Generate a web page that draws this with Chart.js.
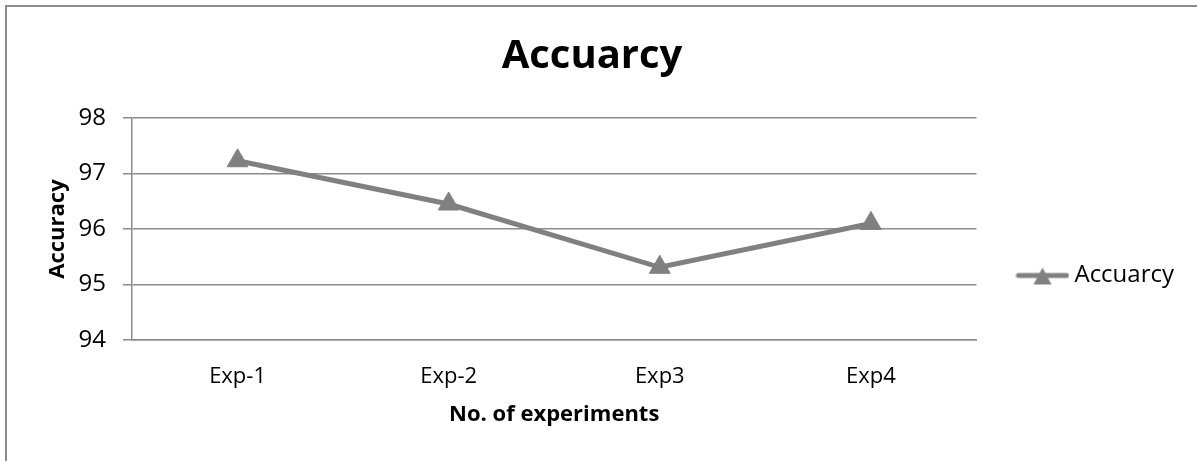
<!DOCTYPE html>
<html><head><meta charset="utf-8">
<script src="https://cdn.jsdelivr.net/npm/chart.js@4"></script>
<style>
html,body{margin:0;padding:0;background:#fff;overflow:hidden;}
#wrap{position:relative;width:1197px;height:461px;overflow:hidden;}
#frame{position:absolute;left:5px;top:5px;width:1300px;height:600px;border-left:2px solid #8c8c8c;border-top:2px solid #8c8c8c;}
canvas{position:absolute;left:0;top:0;}
</style></head><body>
<div id="wrap"><div id="frame"></div><canvas id="c" width="1197" height="461"></canvas></div>
<script>
const categories = ['Exp-1', 'Exp-2', 'Exp3', 'Exp4'];
const accuracyValues = [97.23, 96.45, 95.31, 96.10];
const yTicks = [94, 95, 96, 97, 98];
const seriesName = 'Accuarcy';
const chartTitle = 'Accuarcy';
const yTitle = 'Accuracy';
const xTitle = 'No. of experiments';

const GRAY = '#808080';
const GRID = '#8c8c8c';
const FONT = 'Open Sans';

// legend icon: line with triangle marker
const icon = document.createElement('canvas');
icon.width = 54; icon.height = 26;
const g = icon.getContext('2d');
g.strokeStyle = GRAY; g.lineWidth = 5; g.lineCap = 'round';
g.beginPath(); g.moveTo(3, 13); g.lineTo(51, 13); g.stroke();
g.fillStyle = GRAY;
g.beginPath(); g.moveTo(27, 5); g.lineTo(36, 22); g.lineTo(18, 22); g.closePath(); g.fill();

new Chart(document.getElementById('c'), {
  type: 'line',
  data: {
    labels: categories,
    datasets: [{
      label: seriesName,
      data: accuracyValues,
      borderColor: GRAY,
      backgroundColor: GRAY,
      borderWidth: 5,
      tension: 0,
      fill: false,
      pointStyle: 'triangle',
      pointRadius: 12,
      pointBackgroundColor: GRAY,
      pointBorderColor: GRAY,
      pointBorderWidth: 1,
      clip: false
    }]
  },
  options: {
    responsive: false,
    animation: false,
    layout: { padding: { left: 0, top: 0, right: 13, bottom: 0 } },
    plugins: {
      title: {
        display: true, text: chartTitle, color: '#000',
        font: { family: FONT, size: 40, weight: 'bold' },
        padding: { top: 33, bottom: 37 }
      },
      legend: {
        display: true, position: 'right', align: 'center',
        title: { display: true, text: ' ', font: { size: 10 }, padding: { top: 78, bottom: 0 } },
        labels: {
          usePointStyle: true, pointStyleWidth: 40, padding: 46,
          color: '#000', font: { family: FONT, size: 24 },
          generateLabels: () => [{
            text: seriesName, pointStyle: icon, fillStyle: GRAY, strokeStyle: GRAY,
            lineWidth: 0, hidden: false, datasetIndex: 0, fontColor: '#000'
          }]
        }
      },
      tooltip: { enabled: false }
    },
    scales: {
      x: {
        offset: true,
        grid: { display: false, drawTicks: false },
        border: { display: true, color: GRID, width: 1.5 },
        ticks: { color: '#000', font: { family: FONT, size: 22 }, padding: 24, maxRotation: 0 },
        title: {
          display: true, text: xTitle, color: '#000',
          font: { family: FONT, size: 22, weight: 'bold' },
          padding: { top: 0, bottom: 33 }
        },
        afterFit: s => { s.height = 121; }
      },
      y: {
        min: yTicks[0], max: yTicks[yTicks.length - 1],
        afterBuildTicks: s => { s.ticks = yTicks.map(v => ({ value: v })); },
        grid: { color: GRID, lineWidth: 1.5, drawTicks: true, tickLength: 9 },
        border: { display: true, color: GRID, width: 1.5 },
        ticks: { color: '#000', font: { family: FONT, size: 24 }, padding: 17 },
        title: {
          display: true, text: yTitle, color: '#000',
          font: { family: FONT, size: 22, weight: 'bold' },
          padding: { top: 45, bottom: 0 }
        },
        afterFit: s => { s.width = 132; }
      }
    }
  }
});
</script>
</body></html>
